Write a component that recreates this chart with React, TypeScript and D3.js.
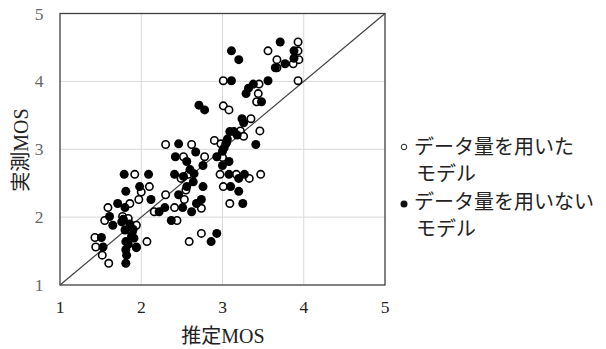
import React from "react";
import * as d3 from "d3";

const withDataX = [3.93,3.56,3.67,3.93,3.94,3.67,3.87,3.93,3.01,3.45,3.44,3.42,3.01,3.08,3.35,3.46,3.22,3.26,2.90,2.30,2.62,2.52,2.78,3.00,1.92,2.97,3.17,3.47,3.33,2.58,2.49,2.55,3.01,2.10,2.00,1.97,1.86,2.30,2.53,3.09,1.59,2.16,2.41,2.74,1.55,2.44,1.77,1.94,1.43,1.44,1.52,1.60,2.07,2.59,2.74,1.94,2.98,1.89,1.84];
const withDataY = [4.58,4.45,4.32,4.45,4.32,4.20,4.26,4.01,4.01,3.96,3.82,3.70,3.64,3.58,3.45,3.27,3.27,3.19,3.13,3.07,3.07,2.89,2.89,2.88,2.63,2.63,2.63,2.63,2.57,2.63,2.57,2.40,2.45,2.45,2.37,2.26,2.20,2.33,2.26,2.20,2.14,2.08,2.14,2.13,1.95,1.95,2.01,1.88,1.70,1.56,1.44,1.32,1.64,1.64,1.76,1.56,3.08,1.78,1.98];

const withoutDataX = [3.11,3.20,3.71,3.88,3.88,3.65,3.77,3.11,3.56,3.38,3.32,3.29,3.48,2.71,2.78,3.24,3.26,3.09,3.14,3.18,3.41,3.06,3.04,3.02,3.00,2.46,2.67,2.42,2.56,2.76,2.93,3.00,3.08,1.79,2.09,2.41,2.65,3.08,3.27,3.20,2.56,2.76,3.10,3.20,1.98,1.81,2.12,2.46,2.74,2.68,3.25,1.71,1.80,2.51,2.29,2.22,2.62,1.61,2.37,1.65,1.76,1.80,1.51,1.53,1.81,1.81,1.82,1.81,1.91,1.94,2.93,2.86,1.86,1.90,1.78,2.60,2.64,2.52,3.05,1.84,1.88];
const withoutDataY = [4.45,4.32,4.58,4.45,4.34,4.20,4.26,4.01,4.01,3.96,3.90,3.82,3.70,3.65,3.58,3.45,3.39,3.26,3.26,3.21,3.07,3.15,3.08,3.02,2.97,3.08,2.96,2.89,2.82,2.76,2.89,2.76,2.82,2.63,2.63,2.63,2.64,2.63,2.63,2.57,2.45,2.45,2.45,2.38,2.45,2.38,2.26,2.33,2.26,2.20,2.20,2.20,2.14,2.14,2.14,2.08,2.08,2.01,1.95,1.88,1.93,1.81,1.70,1.56,1.64,1.52,1.44,1.32,1.69,1.55,1.76,1.64,1.90,1.82,1.97,2.70,2.52,2.60,3.10,1.60,1.72];

const xTicks = [1, 2, 3, 4, 5];
const yTicks = [1, 2, 3, 4, 5];
const xTitle = "推定MOS";
const yTitle = "実測MOS";
const legendNames = [
  ["データ量を用いた", "モデル"],
  ["データ量を用いない", "モデル"],
];

export default function App() {
  const W = 606, H = 349;
  const left = 60, right = 385, top = 13.5, bottom = 285;
  const x = d3.scaleLinear().domain([1, 5]).range([left, right]);
  const y = d3.scaleLinear().domain([1, 5]).range([bottom, top]);
  const serif = "Liberation Serif, Noto Sans CJK JP, serif";
  const cjk = "Noto Sans CJK JP, sans-serif";
  const withData = withDataX.map((v, i) => [v, withDataY[i]]);
  const withoutData = withoutDataX.map((v, i) => [v, withoutDataY[i]]);
  const line = d3.line<number[]>().x(d => x(d[0])).y(d => y(d[1]));
  const legendTop = [154, 209];
  return (
    <svg width={W} height={H} style={{ position: "absolute", left: 0, top: 0, background: "#fff" }}>
      <rect x={0} y={0} width={W} height={H} fill="#fff" />
      {xTicks.slice(1, -1).map(t => (
        <line key={"gx" + t} x1={x(t)} x2={x(t)} y1={top} y2={bottom} stroke="#d9d9d9" strokeWidth={1} />
      ))}
      {yTicks.slice(1, -1).map(t => (
        <line key={"gy" + t} x1={left} x2={right} y1={y(t)} y2={y(t)} stroke="#d9d9d9" strokeWidth={1} />
      ))}
      <path d={line([[1, 1], [5, 5]]) || ""} stroke="#404040" strokeWidth={1.2} fill="none" />
      {withData.map((d, i) => (
        <circle key={"w" + i} cx={x(d[0])} cy={y(d[1])} r={3.7} fill="#fff" stroke="#000" strokeWidth={1.6} />
      ))}
      {withoutData.map((d, i) => (
        <circle key={"n" + i} cx={x(d[0])} cy={y(d[1])} r={4.5} fill="#000" stroke="none" />
      ))}
      <rect x={left} y={top} width={right - left} height={bottom - top} fill="none" stroke="#404040" strokeWidth={1.3} />
      {xTicks.map(t => (
        <text key={"xt" + t} x={x(t)} y={313} textAnchor="middle" style={{ fontFamily: serif }} fontSize={17.5} fill="#222">{t}</text>
      ))}
      {yTicks.map(t => (
        <text key={"yt" + t} x={39} y={y(t) + 6} textAnchor="middle" style={{ fontFamily: serif }} fontSize={17.5} fill="#666">{t}</text>
      ))}
      <text x={223} y={343} textAnchor="middle" style={{ fontFamily: serif }} fontSize={20} fill="#222">{xTitle}</text>
      <text transform={`translate(28,150) rotate(-90)`} textAnchor="middle" style={{ fontFamily: serif }} fontSize={20} fill="#222">{yTitle}</text>
      <circle cx={404} cy={147} r={2.8} fill="#fff" stroke="#222" strokeWidth={1} />
      <circle cx={404} cy={204} r={3.5} fill="#111" />
      {legendNames.map((ls, i) => (
        <g key={"lg" + i}>
          <text x={414} y={legendTop[i]} style={{ fontFamily: cjk }} fontSize={20} fill="#222">{ls[0]}</text>
          <text x={416} y={legendTop[i] + 27} style={{ fontFamily: cjk }} fontSize={20} fill="#222">{ls[1]}</text>
        </g>
      ))}
    </svg>
  );
}
